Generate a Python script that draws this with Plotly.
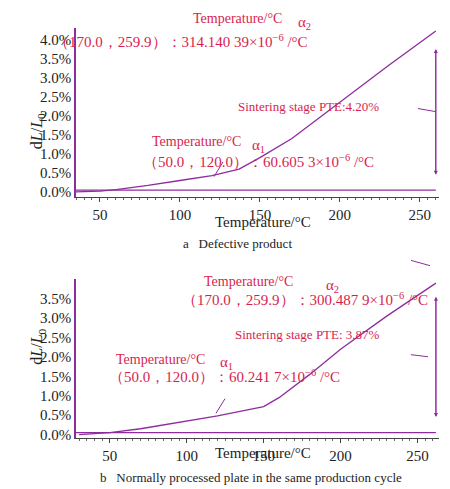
import plotly.graph_objects as go

W, H = 450, 489
# Panel a (defective product)
xa = [35, 50, 60, 80, 100, 120, 137, 150, 170, 200, 230, 260]
ya = [0.0, 0.02, 0.06, 0.17, 0.30, 0.43, 0.60, 0.90, 1.40, 2.35, 3.30, 4.22]
base_a_x = [35, 260]
base_a_y = [0.05, 0.05]
# Panel b (normal plate)
xb = [30, 50, 70, 100, 120, 150, 160, 180, 200, 230, 262]
yb = [0.0, 0.05, 0.15, 0.35, 0.48, 0.72, 0.95, 1.55, 2.20, 3.05, 3.90]
base_b_x = [28, 262]
base_b_y = [0.05, 0.05]
yticks_a = [0, 0.5, 1, 1.5, 2, 2.5, 3, 3.5, 4]
yticks_b = [0, 0.5, 1, 1.5, 2, 2.5, 3, 3.5]
xticks = [50, 100, 150, 200, 250]

LINE = "#8e2c9e"
RED = "#d81e4e"
FONT = "Liberation Serif"

def cy(y):
    return (y - 19) / 0.947

def px(x, y):
    return x / W, 1 - cy(y) / H

fig = go.Figure()
fig.add_trace(go.Scatter(x=xa, y=ya, mode="lines", line=dict(color=LINE, width=1.3), xaxis="x", yaxis="y"))
fig.add_trace(go.Scatter(x=base_a_x, y=base_a_y, mode="lines", line=dict(color=LINE, width=1.3), xaxis="x", yaxis="y"))
fig.add_trace(go.Scatter(x=xb, y=yb, mode="lines", line=dict(color=LINE, width=1.3), xaxis="x2", yaxis="y2"))
fig.add_trace(go.Scatter(x=base_b_x, y=base_b_y, mode="lines", line=dict(color=LINE, width=1.3), xaxis="x2", yaxis="y2"))

axfont = dict(family=FONT, size=15, color="#222")
def xax(rng, anchor):
    return dict(range=rng, domain=[68/W, 431/W], anchor=anchor, tickvals=xticks, ticks="outside",
                ticklen=4, showline=True, linecolor="#444", showgrid=False, zeroline=False,
                tickfont=axfont, minor=dict(ticks="outside", ticklen=2, dtick=5, tickcolor="#666"))
def yax(rng, dom, anchor, tv):
    return dict(range=rng, domain=dom, anchor=anchor, tickvals=tv,
                ticktext=[f"{v:.1f}%" for v in tv], ticks="", showline=True, linecolor=LINE,
                linewidth=1.5, showgrid=False, zeroline=False, tickfont=axfont)

fig.update_layout(
    width=W, height=H, margin=dict(l=0, r=0, t=0, b=0), showlegend=False,
    plot_bgcolor="white", paper_bgcolor="white",
    xaxis=xax([35, 262], "y"),
    yaxis=yax([-0.12, 4.3], [1-cy(199)/H, 1-cy(38)/H], "x", yticks_a),
    xaxis2=xax([28, 264], "y2"),
    yaxis2=yax([-0.1, 4.0], [1-cy(430)/H, 1-cy(278)/H], "x2", yticks_b),
)

def txt(s, x, y, size=13, color=RED, angle=0):
    xx, yy = px(x, y)
    fig.add_annotation(text=s, x=xx, y=yy, xref="paper", yref="paper", showarrow=False,
                       font=dict(family=FONT, size=size, color=color), textangle=angle)

# panel a texts
txt("Temperature/°C", 230, 20, 14)
txt("α<sub>2</sub>", 296, 23, 15)
txt("（170.0，259.9）：314.140 39×10<sup>−6</sup> /°C", 302, 40, 15)
txt("Sintering stage PTE:4.20%", 373, 104, 13)
txt("Temperature/°C", 188, 137, 14)
txt("α<sub>1</sub>", 250, 140, 15)
txt("（50.0，120.0）：60.605 3×10<sup>−6</sup> /°C", 250, 155, 15)
txt("d<i>L</i>/<i>L</i><sub>0</sub>", 18, 118, 16, "#222", -90)
txt("Temperature/°C", 255, 223, 15, "#222")
txt("a   Defective product", 230, 244, 13, "#222")
# panel b texts
txt("Temperature/°C", 240, 280, 14)
txt("α<sub>2</sub>", 333, 284, 15)
txt("（170.0，259.9）：300.487 9×10<sup>−6</sup> /°C", 297, 297, 15)
txt("Sintering stage PTE: 3.87%", 374, 340, 13)
txt("Temperature/°C", 152, 364, 14)
txt("α<sub>1</sub>", 218, 368, 15)
txt("（50.0，120.0）：60.241 7×10<sup>−6</sup> /°C", 216, 381, 15)
txt("d<i>L</i>/<i>L</i><sub>0</sub>", 18, 362, 16, "#222", -90)
txt("Temperature/°C", 255, 453, 15, "#222")
txt("b   Normally processed plate in the same production cycle", 243, 476, 13, "#222")

# double arrows
for xr, yr, x0, y0, y1 in [("x", "y", 260, 0.45, 3.75), ("x2", "y2", 262, 0.45, 3.55)]:
    for a, b in [(y0, y1), (y1, y0)]:
        fig.add_annotation(x=x0, y=a, ax=x0, ay=b, xref=xr, yref=yr, axref=xr, ayref=yr,
                           showarrow=True, arrowhead=2, arrowsize=0.8, arrowwidth=1, arrowcolor=LINE, text="")
# pointer lines (paper pixels)
for (x0, y0, x1, y1) in [(206, 180, 215, 166), (410, 115, 428, 118),
                         (208, 406, 217, 392), (403, 260, 422, 265), (403, 350, 420, 352)]:
    a0, b0 = px(x0, y0); a1, b1 = px(x1, y1)
    fig.add_shape(type="line", x0=a0, y0=b0, x1=a1, y1=b1, xref="paper", yref="paper",
                  line=dict(color=LINE, width=1))
fig.write_html("out.html")
